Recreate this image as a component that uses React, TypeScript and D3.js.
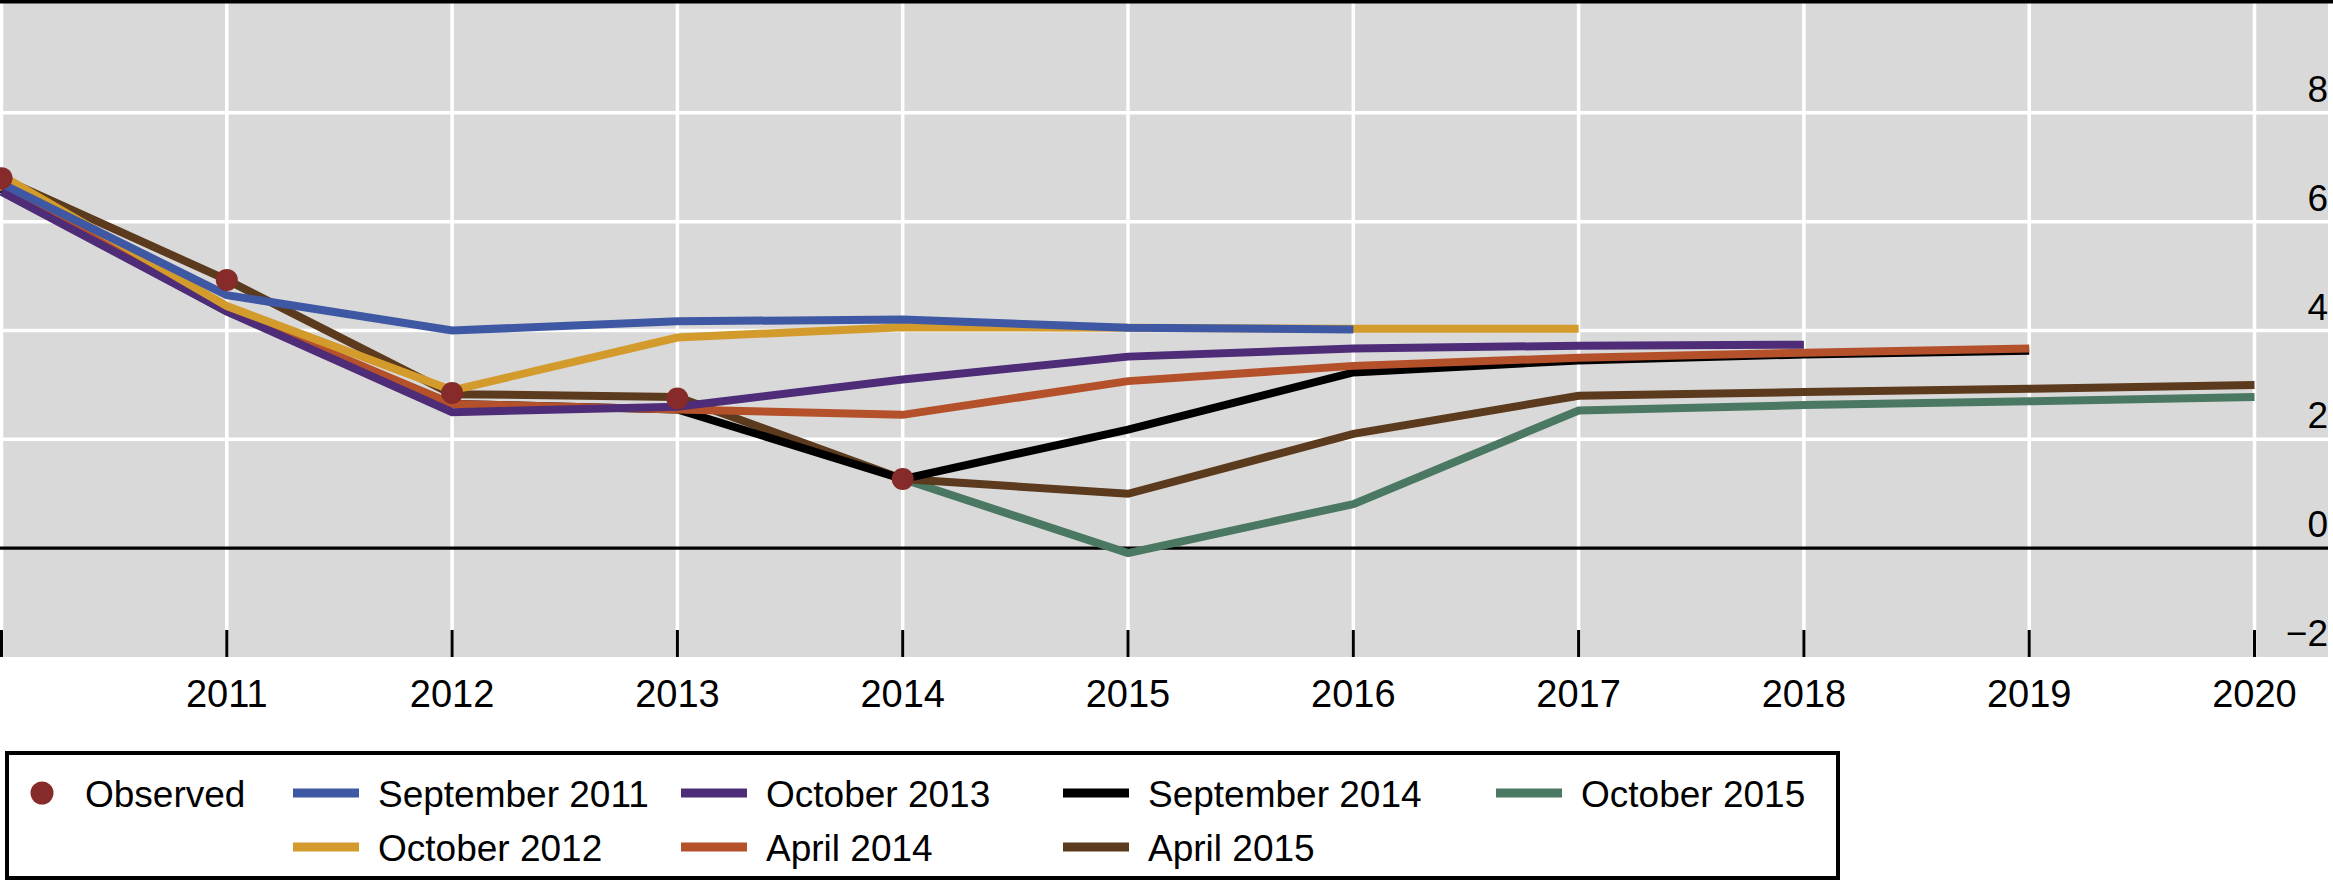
import * as d3 from "d3";

const WIDTH = 2333;
const HEIGHT = 881;

const years = [2010, 2011, 2012, 2013, 2014, 2015, 2016, 2017, 2018, 2019, 2020];
const yTicks = [-2, 0, 2, 4, 6, 8];

// observed values, 2010-2014
const observed = [6.8, 4.93, 2.85, 2.75, 1.27];

// forecast vintages, values start at the given year
const sep2011 = [6.7, 4.65, 4.0, 4.17, 4.2, 4.05, 4.02];
const oct2012 = [6.85, 4.45, 2.9, 3.87, 4.06, 4.05, 4.03, 4.03];
const oct2013 = [6.55, 4.35, 2.5, 2.6, 3.1, 3.52, 3.67, 3.72, 3.74];
const apr2014 = [6.65, 4.4, 2.65, 2.55, 2.45, 3.07, 3.35, 3.5, 3.59, 3.67];
const sep2014 = [6.6, 4.35, 2.65, 2.55, 1.27, 2.18, 3.23, 3.45, 3.56, 3.63];
const apr2015 = [6.8, 4.93, 2.83, 2.78, 1.27, 1.0, 2.1, 2.8, 2.87, 2.93, 3.0];
const oct2015 = [1.27, -0.09, 0.81, 2.53, 2.63, 2.7, 2.78];

type Series = { name: string; start: number; values: number[]; color: string };

const series: Series[] = [
  { name: "September 2011", start: 2010, values: sep2011, color: "#3f58a3" },
  { name: "October 2012", start: 2010, values: oct2012, color: "#d39a2c" },
  { name: "October 2013", start: 2010, values: oct2013, color: "#4e2c78" },
  { name: "April 2014", start: 2010, values: apr2014, color: "#b5512a" },
  { name: "September 2014", start: 2010, values: sep2014, color: "#000000" },
  { name: "April 2015", start: 2010, values: apr2015, color: "#5b3a1d" },
  { name: "October 2015", start: 2014, values: oct2015, color: "#4b7862" },
];

// draw order (bottom to top)
const drawOrder = ["October 2015", "April 2015", "September 2014", "April 2014", "October 2013", "October 2012", "September 2011"];

// legend rows
const legendRow1 = ["September 2011", "October 2013", "September 2014", "October 2015"];
const legendRow2 = ["October 2012", "April 2014", "April 2015"];
const legendColX = [293, 681, 1063, 1496];

const FONT = "'Liberation Sans', Arial, Helvetica, sans-serif";
const DOT_COLOR = "#862a2a";

export default function App() {
  const x = d3.scaleLinear().domain([2010, 2020]).range([1.5, 2254.5]);
  const y = d3.scaleLinear().domain([-2, 10]).range([657, 4]);

  const line = d3
    .line<{ yr: number; v: number }>()
    .x((d) => x(d.yr))
    .y((d) => y(d.v));

  const byName = new Map(series.map((s) => [s.name, s]));
  const plotRight = 2328;

  return (
    <svg
      width={WIDTH}
      height={HEIGHT}
      style={{ position: "absolute", left: 0, top: 0, display: "block", background: "#fff" }}
    >
      <rect x={0} y={3} width={plotRight} height={y(-2) - 3} fill="#d9d9d9" />

      {/* grid */}
      {years.map((yr) => (
        <line key={"gx" + yr} x1={x(yr)} x2={x(yr)} y1={3} y2={y(-2)} stroke="#fff" strokeWidth={3.5} />
      ))}
      {yTicks
        .filter((t) => t !== 0 && t !== -2)
        .map((t) => (
          <line key={"gy" + t} x1={0} x2={plotRight} y1={y(t)} y2={y(t)} stroke="#fff" strokeWidth={3.5} />
        ))}
      <line x1={0} x2={plotRight} y1={y(0)} y2={y(0)} stroke="#000" strokeWidth={3.3} />

      {/* ticks */}
      {years.map((yr) => (
        <line key={"tk" + yr} x1={x(yr)} x2={x(yr)} y1={y(-2) - 27} y2={y(-2)} stroke="#000" strokeWidth={3} />
      ))}

      {/* series */}
      {drawOrder.map((name) => {
        const s = byName.get(name)!;
        const pts = s.values.map((v, i) => ({ yr: s.start + i, v }));
        return (
          <path
            key={name}
            d={line(pts) ?? ""}
            fill="none"
            stroke={s.color}
            strokeWidth={8}
            strokeLinejoin="miter"
          />
        );
      })}

      {observed.map((v, i) => (
        <circle key={"ob" + i} cx={x(2010 + i)} cy={y(v)} r={11} fill={DOT_COLOR} />
      ))}

      {/* top rule */}
      <rect x={0} y={0} width={WIDTH} height={3.5} fill="#000" />

      {/* y labels */}
      {yTicks.map((t) => (
        <text
          key={"yl" + t}
          x={2328}
          y={y(t) - 11}
          textAnchor="end"
          fontFamily={FONT}
          fontSize={37}
          fill="#000"
        >
          {t < 0 ? "\u2212" + Math.abs(t) : String(t)}
        </text>
      ))}

      {/* x labels */}
      {years.slice(1).map((yr) => (
        <text key={"xl" + yr} x={x(yr)} y={707} textAnchor="middle" fontFamily={FONT} fontSize={38} fill="#000">
          {yr}
        </text>
      ))}

      {/* legend */}
      <rect x={7} y={753} width={1831} height={125} fill="#fff" stroke="#000" strokeWidth={4} />
      <circle cx={42} cy={793} r={11.5} fill={DOT_COLOR} />
      <text x={85} y={807} fontFamily={FONT} fontSize={37} fill="#000">
        Observed
      </text>
      {[legendRow1, legendRow2].map((row, ri) =>
        row.map((name, ci) => {
          const s = byName.get(name)!;
          const cy = ri === 0 ? 793 : 847;
          const sx = legendColX[ci];
          return (
            <g key={name}>
              <rect x={sx} y={cy - 4.5} width={66} height={9} fill={s.color} />
              <text x={sx + 85} y={cy + 14} fontFamily={FONT} fontSize={37} fill="#000">
                {name}
              </text>
            </g>
          );
        })
      )}
    </svg>
  );
}
